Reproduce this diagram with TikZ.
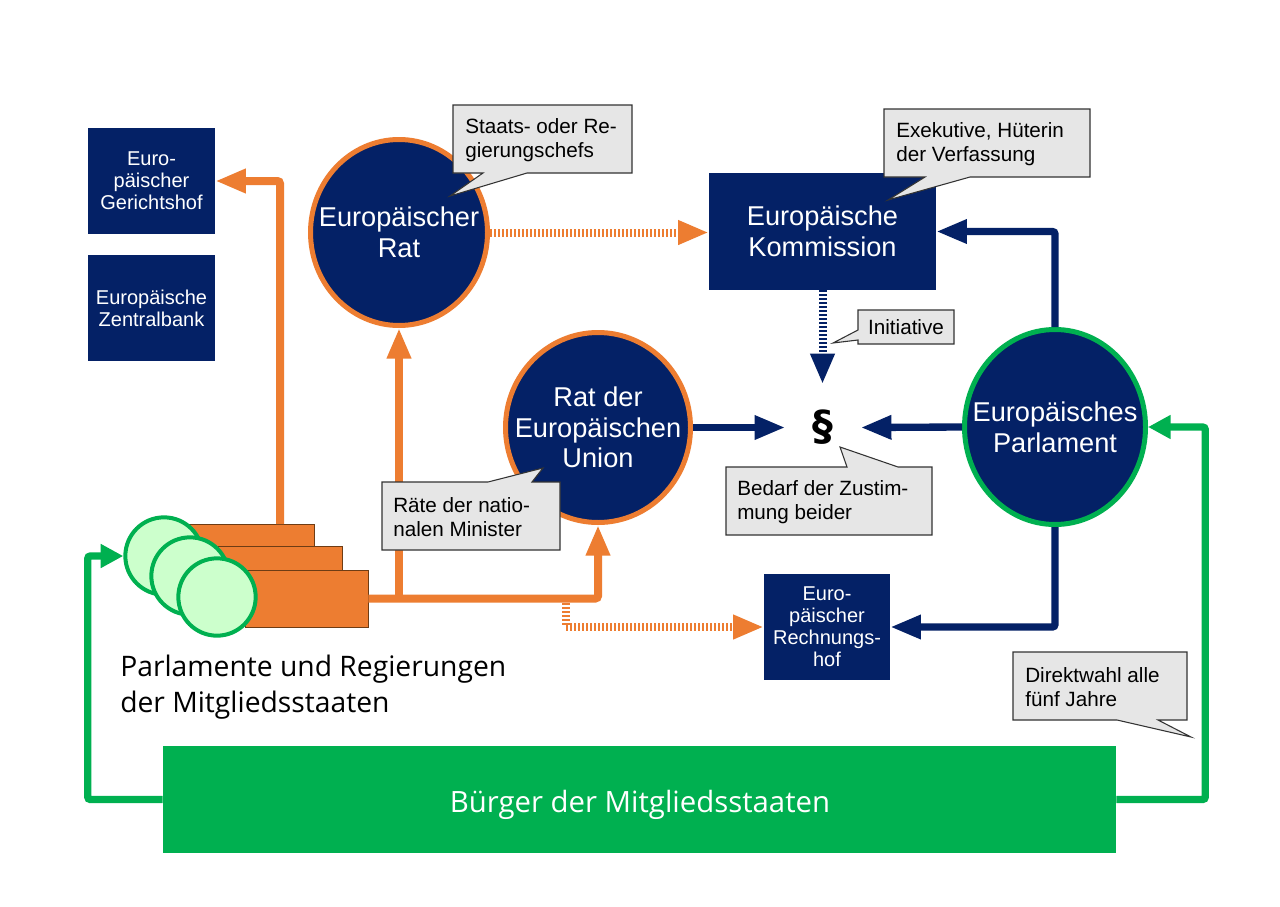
\documentclass[tikz,border=0pt]{standalone}
\usepackage{fontspec}
\setmainfont{Liberation Sans}
\newfontfamily\opensansfam{Open Sans}
\newfontfamily\dejavufam{DejaVu Sans}
\usetikzlibrary{arrows.meta,shapes.geometric}
\definecolor{euNavy}{RGB}{4,33,102}
\definecolor{euOrange}{HTML}{ED7D31}
\definecolor{euGreen}{HTML}{00B050}
\definecolor{euLight}{HTML}{CCFFCC}
\definecolor{euGrey}{HTML}{E6E6E6}
\definecolor{euEdge}{HTML}{333333}
\definecolor{euBrown}{RGB}{110,60,20}
\tikzset{
  navybox/.style={rectangle, fill=euNavy, text=white, inner sep=0pt, align=center,
    font=\fontsize{15}{16.5}\selectfont},
  bigtext/.style={font=\fontsize{20.4}{23}\selectfont},
  circ/.style={ellipse, fill=euNavy, inner sep=0pt, line width=3.75pt},
  circtext/.style={text=white, align=center, inner sep=0pt, font=\fontsize{20.4}{23}\selectfont},
  oline/.style={draw=euOrange, line width=6pt, rounded corners=2pt},
  oarrow/.style={oline, -{Triangle[length=23pt,width=17pt]}},
  odash/.style={draw=euOrange, line width=6pt, dash pattern=on 1.5pt off 1.5pt, -{Triangle[length=23pt,width=17pt]}},
  narrow/.style={draw=euNavy, line width=5.5pt, rounded corners=2pt, -{Triangle[length=23pt,width=17pt]}},
  ndash/.style={draw=euNavy, line width=6pt, dash pattern=on 1.5pt off 1.5pt, -{Triangle[length=23pt,width=17pt]}},
  garrow/.style={draw=euGreen, line width=5.5pt, rounded corners=2pt, -{Triangle[length=17pt,width=17pt]}},
  bubble/.style={fill=euGrey, draw=euEdge, line width=0.8pt, line join=miter},
  ctext/.style={align=left, inner sep=0pt, anchor=west, font=\fontsize{15.5}{17.5}\selectfont},
  msrect/.style={rectangle, fill=euOrange, draw=euBrown, line width=0.6pt, inner sep=0pt},
  mscirc/.style={circle, fill=euLight, draw=euGreen, line width=3pt, inner sep=0pt, minimum size=58pt},
}
\begin{document}
\begin{tikzpicture}[x=0.75pt,y=-0.75pt]
\useasboundingbox (0,0) rectangle (1280,906);
\fill[white] (0,0) rectangle (1280,906);

% ---------- institutions (boxes) ----------
\node[navybox, minimum width=95.25pt, minimum height=79.5pt] (gh) at (151.5,181) {Euro-\\päischer\\Gerichtshof};
\node[navybox, minimum width=95.25pt, minimum height=79.5pt] (ezb) at (151.5,308) {Europäische\\Zentralbank};
\node[navybox, bigtext, minimum width=170.25pt, minimum height=87.75pt] (kom) at (822.5,231.5) {Europäische\\Kommission};
\node[navybox, minimum width=94.5pt, minimum height=79.5pt] (rh) at (827,627) {Euro-\\päischer\\Rechnungs-\\hof};

% ---------- circles ----------
\node[circ, draw=euOrange, minimum width=132.75pt, minimum height=139.5pt] (er) at (399,232.5) {};
\node[circtext] (erT) at (er) {Europäischer\\Rat};
\node[circ, draw=euOrange, minimum width=138.75pt, minimum height=142.5pt] (rat) at (598,427.5) {};
\node[circtext] (ratT) at (rat) {Rat der\\Europäischen\\Union};
\node[circ, draw=euGreen, minimum width=135.75pt, minimum height=146.25pt] (ep) at (1055,427) {};
\node[circtext] (epT) at (ep) {Europäisches\\Parlament};

% ---------- paragraph sign ----------
\node[font=\dejavufam\bfseries\fontsize{31}{31}\selectfont, minimum width=56.25pt, minimum height=64.5pt, inner sep=0pt] (para) at (823,427.5) {§};

% ---------- citizens ----------
\node[rectangle, fill=euGreen, minimum width=714.75pt, minimum height=80.25pt, inner sep=0pt] (bu) at (639.5,799.5) {};
\node[text=white, inner sep=0pt, font=\opensansfam\fontsize{22}{22}\selectfont] (buT) at (640,805) {Bürger der Mitgliedsstaaten};

% ---------- member states ----------
\node[msrect, minimum width=93.75pt, minimum height=42pt] (r1) at (251.5,552) {};
\node[msrect, minimum width=93pt, minimum height=40.5pt] (r2) at (280,573) {};
\node[msrect, minimum width=92.25pt, minimum height=42.75pt] (r3) at (306.5,598.5) {};
\node[mscirc] (c1) at (164,556) {};
\node[mscirc] (c2) at (190,576) {};
\node[mscirc] (c3) at (217,597) {};
\node[anchor=west, align=left, inner sep=0pt, font=\opensansfam\fontsize{21.2}{26.5}\selectfont] (msT) at (120,687) {Parlamente und Regierungen\\der Mitgliedsstaaten};

% ---------- connectors ----------
\coordinate (ghFeed) at (280,524);
\coordinate (rhFeed) at (566,603);
\draw[oarrow] (ghFeed) |- (gh.east);
\draw[oarrow] (r3.east) -| (rat.south);
\draw[oarrow] (er.south |- r3.east) -- (er.south);
\draw[odash] (er.east) -- (er.east -| kom.west);
\draw[odash] (rhFeed) |- (rh.west);

\draw[narrow] (ep.north) |- (kom.east);
\draw[narrow] (ep.south) |- (rh.east);
\draw[narrow] (rat.east) -- (para.west);
\draw[narrow] (ep.west) -- (para.east);
\draw[ndash] (kom.south) -- (kom.south |- para.north);

\draw[garrow] (bu.west) -- ++(-75,0) |- (c1.west);
\draw[garrow] (bu.east) -- ++(89,0) |- (ep.east);

% ---------- callouts ----------
\draw[bubble] (453,105) -- (632,105) -- (632,173) -- (527,173) -- (450,196) -- (483,173) -- (453,173) -- cycle;
\node[ctext] (tStaats) at (465,140) {Staats- oder Re-\\gierungschefs};

\draw[bubble] (884,109) -- (1090,109) -- (1090,177) -- (970,177) -- (888,200) -- (925,177) -- (884,177) -- cycle;
\node[ctext] (tExe) at (896,144) {Exekutive, Hüterin\\der Verfassung};

\draw[bubble] (858,310) -- (954,310) -- (954,344) -- (858,344) -- (858,340) -- (833,343) -- (858,330) -- cycle;
\node[ctext, anchor=center] (tIni) at (906,327) {Initiative};

\draw[bubble] (726,467) -- (847,467) -- (840,447) -- (898,467) -- (932,467) -- (932,535) -- (726,535) -- cycle;
\node[ctext] (tBed) at (737,502) {Bedarf der Zustim-\\mung beider};

\draw[bubble] (382,482) -- (488,482) -- (543,468) -- (532,482) -- (560,482) -- (560,550) -- (382,550) -- cycle;
\node[ctext] (tRaete) at (393,517) {Räte der natio-\\nalen Minister};

\draw[bubble] (1013,652) -- (1187,652) -- (1187,720) -- (1158,720) -- (1191,737) -- (1117,720) -- (1013,720) -- cycle;
\node[ctext] (tDir) at (1025,687) {Direktwahl alle\\fünf Jahre};
\end{tikzpicture}
\end{document}
